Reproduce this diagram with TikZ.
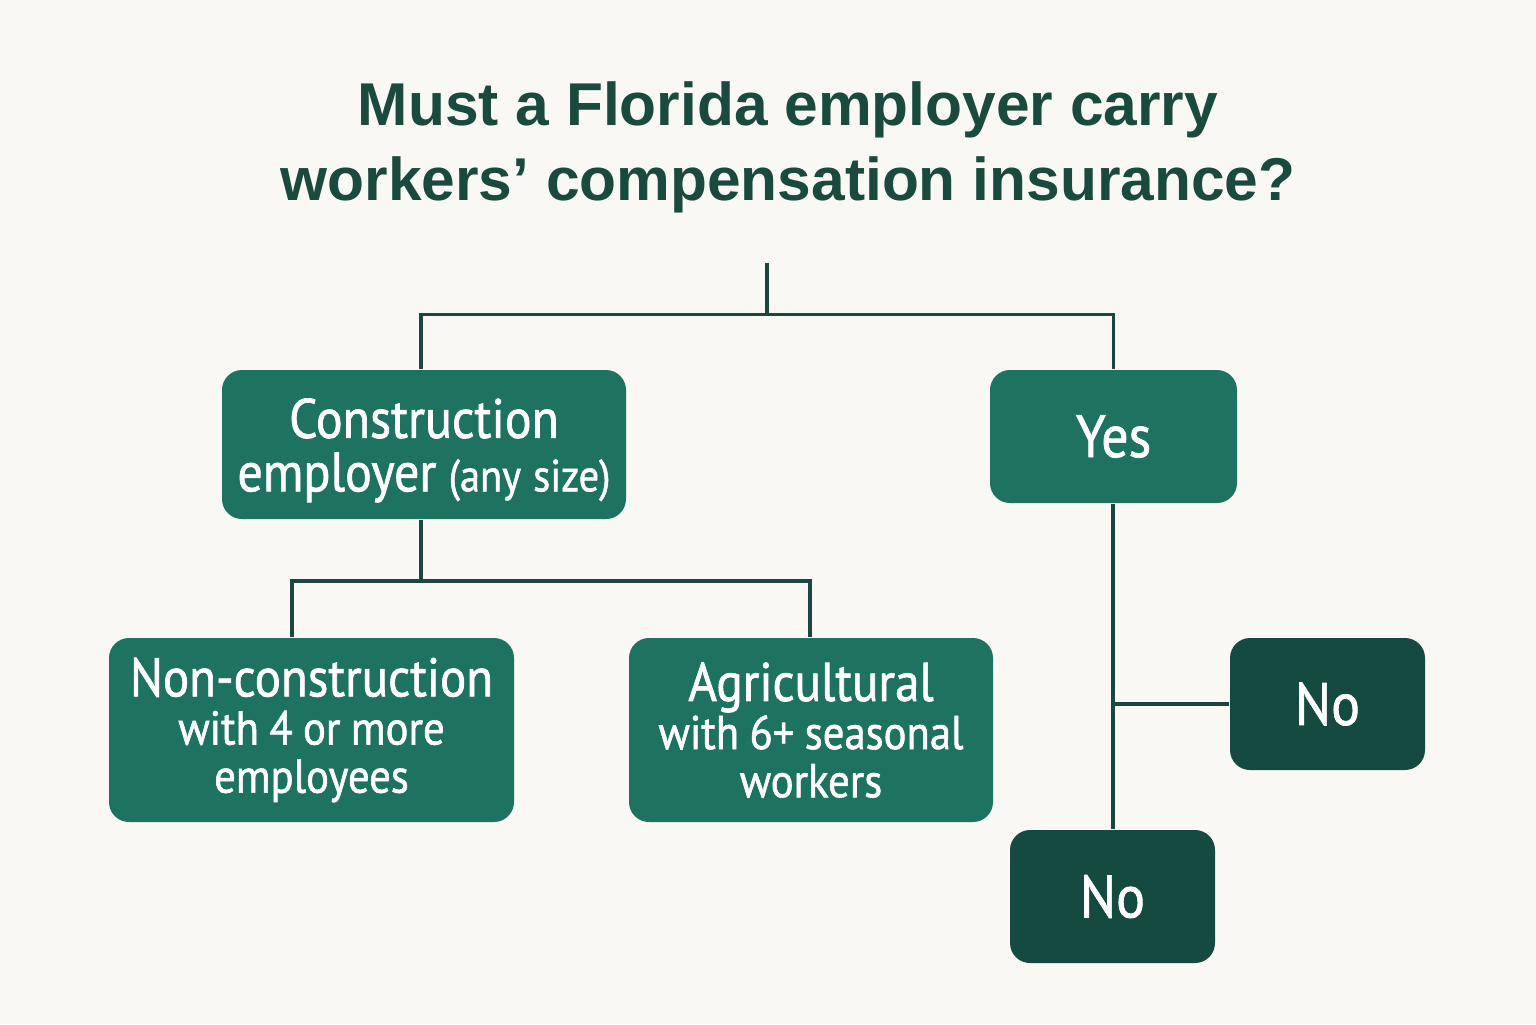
\documentclass[tikz,border=0pt]{standalone}
\usepackage{fontspec}
\setmainfont{PT Sans}
\newfontfamily\boxfont{PT Sans}[FakeBold=1.2,FakeStretch=0.9]
\newfontfamily\titlefont{Liberation Sans}
\definecolor{bg}{HTML}{F9F8F4}
\definecolor{boxg}{HTML}{1E7260}
\definecolor{boxd}{HTML}{154A40}
\definecolor{linec}{HTML}{1C4640}
\definecolor{titlec}{HTML}{1A4A3E}
\newcommand{\firstline}{\fontsize{15.5}{13.7}\selectfont}
\newcommand{\tightsp}{\spaceskip=0.22em\relax}
\begin{document}
\begin{tikzpicture}[x=1cm,y=1cm,
  box/.style={draw=none,fill=boxg,rounded corners=0.2cm,text=white,align=center,inner sep=0pt,font=\boxfont\fontsize{15.8}{15.2}\selectfont\tightsp},
  dbox/.style={box,fill=boxd},
  big/.style={font=\boxfont\fontsize{17}{17}\selectfont},
  conn/.style={draw=linec,line width=0.9pt}]
\fill[bg] (0,0) rectangle (15.36,-10.24);
\useasboundingbox (0,0) rectangle (15.36,-10.24);
\node[text=titlec,align=center,font=\titlefont\bfseries\fontsize{17.2}{21.3}\selectfont] (title) at (7.88,-1.47) {Must a Florida employer carry\\workers’ compensation insurance?};
\node[box,minimum width=4.04cm,minimum height=1.49cm] (cons) at (4.24,-4.445) {};
\node[box,fill=none] (constext) at ([yshift=-0.06cm]cons.center) {Construction\\employer {\fontsize{12.8}{12}\selectfont(any size)}};
\node[box,big,minimum width=2.47cm,minimum height=1.33cm] (yes) at (11.135,-4.365) {Yes};
\node[box,minimum width=4.05cm,minimum height=1.84cm,font=\boxfont\fontsize{13.5}{13.7}\selectfont\tightsp] (noncon) at (3.115,-7.30) {{\firstline Non-construction}\\with 4 or more\\employees};
\node[box,minimum width=3.64cm,minimum height=1.84cm,font=\boxfont\fontsize{13.5}{13.7}\selectfont\tightsp] (agri) at (8.11,-7.30) {{\firstline Agricultural}\\with 6+ seasonal\\workers};
\node[dbox,big,minimum width=1.95cm,minimum height=1.32cm] (nor) at (13.275,-7.04) {No};
\node[dbox,big,minimum width=2.05cm,minimum height=1.33cm] (nob) at (11.125,-8.965) {No};
\coordinate (top) at (7.67,-2.63);
\coordinate (j1) at (7.67,-3.15);
\coordinate (j2) at (4.21,-5.81);
\coordinate (j2l) at (2.92,-5.81);
\coordinate (j2r) at (8.10,-5.81);
\coordinate (j3) at (11.13,-7.04);
\draw[conn] (top) -- (j1);
\draw[conn] ([xshift=-0.03cm]cons.north) -- ++(0,0.55) -| (yes.north);
\draw[conn] (j2 |- cons.south) -- (j2);
\draw[conn] (j2l |- noncon.north) -- (j2l) -- (j2r) -- (j2r |- agri.north);
\draw[conn] (j3 |- yes.south) -- (j3 |- nob.north);
\draw[conn] (j3) -- (nor.west);
\end{tikzpicture}
\end{document}
